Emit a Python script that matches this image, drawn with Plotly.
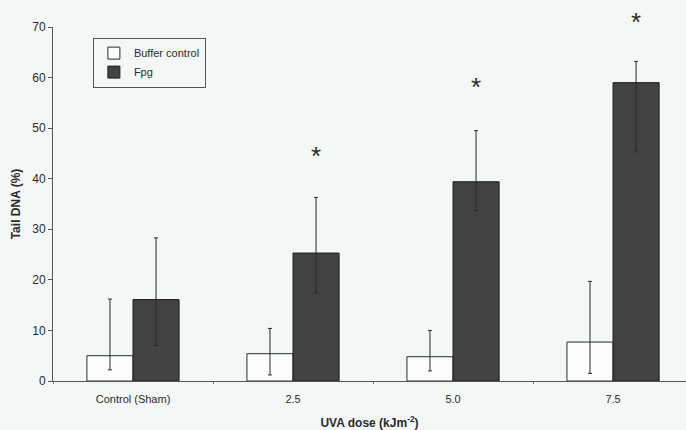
import plotly.graph_objects as go

categories = ["Control (Sham)", "2.5", "5.0", "7.5"]
buffer_mean = [5.0, 5.4, 4.8, 7.7]
buffer_upper = [16.2, 10.4, 10.0, 19.7]
buffer_lower = [2.2, 1.2, 2.0, 1.5]
fpg_mean = [16.1, 25.3, 39.4, 59.0]
fpg_upper = [28.3, 36.3, 49.5, 63.2]
fpg_lower = [7.0, 17.4, 33.7, 45.3]
asterisk_y = [None, 45.3, 59.0, 71.8]
YMAX = 70

BG = "#f3f7f6"
INK = "#2b2b2b"
FONT = "Liberation Sans, Arial, sans-serif"

def err(mean, up, lo):
    return dict(type="data", symmetric=False,
                array=[u - m for u, m in zip(up, mean)],
                arrayminus=[m - l for m, l in zip(mean, lo)],
                color=INK, thickness=1, width=2)

fig = go.Figure()
fig.add_trace(go.Bar(name="Buffer control", x=categories, y=buffer_mean,
                     marker=dict(color="#fbfcfc", line=dict(color=INK, width=1)),
                     error_y=err(buffer_mean, buffer_upper, buffer_lower)))
fig.add_trace(go.Bar(name="Fpg", x=categories, y=fpg_mean,
                     marker=dict(color="#424242", line=dict(color="#1e1e1e", width=1)),
                     error_y=err(fpg_mean, fpg_upper, fpg_lower)))

for i, a in enumerate(asterisk_y):
    if a is not None:
        fig.add_annotation(x=i, y=a / YMAX, xref="x", yref="y domain", text="*", showarrow=False,
                           xanchor="center", yanchor="middle",
                           xshift=23, yshift=-4, font=dict(size=26, color=INK, family=FONT))

fig.update_layout(
    width=686, height=430,
    paper_bgcolor=BG, plot_bgcolor=BG,
    margin=dict(l=53, r=0, t=27, b=49, autoexpand=False),
    barmode="group", bargap=0.424, bargroupgap=0,
    font=dict(family=FONT, size=11, color=INK),
    showlegend=True,
    legend=dict(x=0.063, y=0.97, xanchor="left", yanchor="top",
                bgcolor="rgba(0,0,0,0)", bordercolor="#555", borderwidth=1,
                font=dict(size=11, color=INK), tracegroupgap=0,
                itemwidth=30),
    xaxis=dict(range=[-0.5, 3.456], showline=True, linecolor="#555", linewidth=1,
               ticks="outside", tickson="boundaries", ticklen=2, tickcolor="#777",
               ticklabelstandoff=8,
               showgrid=False, zeroline=False,
               tickfont=dict(size=11, color=INK),
               title=dict(text="<b>UVA dose (kJm<sup>-2</sup>)</b>", font=dict(size=12, color=INK), standoff=14)),
    yaxis=dict(range=[0, YMAX], dtick=10, showline=True, linecolor="#555", linewidth=1,
               ticks="outside", ticklen=4, tickcolor="#555", showgrid=False, zeroline=False,
               tickfont=dict(size=12, color=INK),
               title=dict(text="<b>Tail DNA (%)</b>", font=dict(size=12, color=INK), standoff=9)),
)

fig.write_html("out.html", config={"displayModeBar": False},
               post_script="document.body.style.margin='0';document.body.style.background='%s';" % BG)
